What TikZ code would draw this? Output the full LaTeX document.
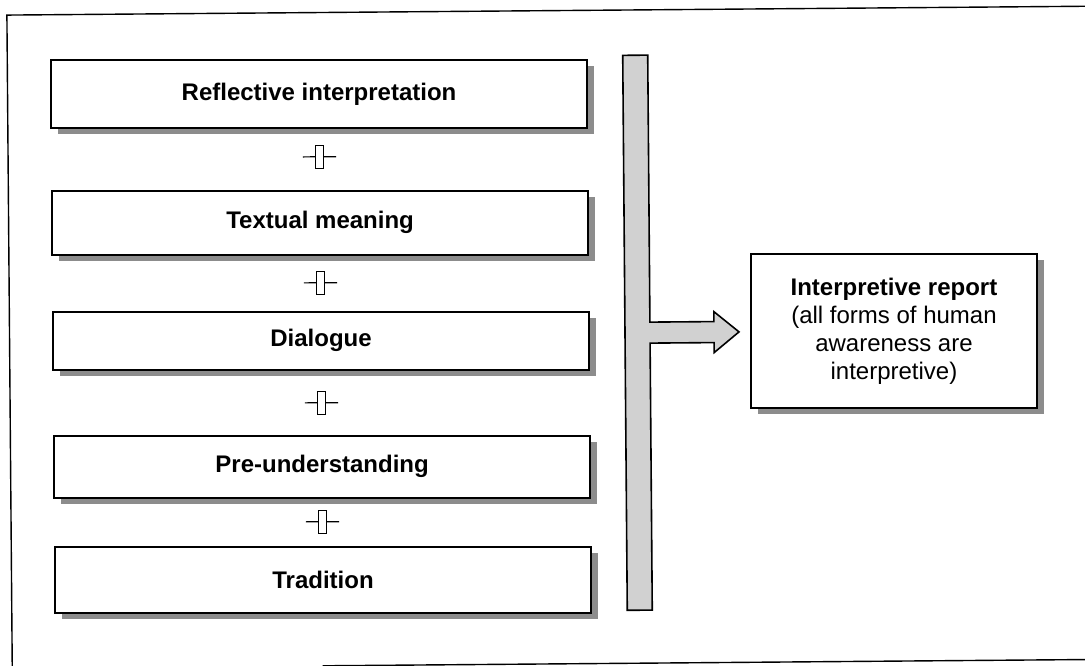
\documentclass[tikz,border=0pt]{standalone}
\usepackage{fontspec}
\setmainfont{Liberation Sans}
\usetikzlibrary{shadows}
\begin{document}
\begin{tikzpicture}[x=1pt,y=-1pt,
  frameline/.style={line width=1.4pt},
  boxshadow/.style={drop shadow={shadow xshift=7pt,shadow yshift=-6pt,fill=black!45,opacity=1}},
  stepbox/.style={draw,line width=1.6pt,fill=white,boxshadow,minimum width=536pt,minimum height=66pt,inner sep=0pt,
    font=\bfseries\fontsize{24}{28}\selectfont},
  linkbox/.style={draw,line width=1.2pt,fill=white,minimum width=8pt,minimum height=23pt,inner sep=0pt},
  linkarm/.style={line width=1.2pt},
  reportbox/.style={draw,line width=1.6pt,fill=white,boxshadow,minimum width=286pt,minimum height=154pt,inner sep=0pt,
    align=center,font=\fontsize{24}{28}\selectfont},
  flowbar/.style={draw,line width=1.6pt,fill=black!18,line join=miter}
]
\useasboundingbox (0,0) rectangle (1085,666);
\clip (0,0) rectangle (1085,666);
\begin{scope}[rotate around={0.47:(542,333)}]
  % outer frame
  \draw[frameline] (9.5,690) -- (9.5,10.7) -- (1110,10.7);
  \draw[frameline] (320,664) -- (1110,664);

  % stages
  \node[stepbox,minimum height=68pt] (s1) at (321,92)  {Reflective interpretation};
  \node[stepbox,minimum height=64pt] (s2) at (321,221) {Textual meaning};
  \node[stepbox,minimum height=58pt] (s3) at (321,339) {Dialogue};
  \node[stepbox,minimum height=62pt] (s4) at (321,465) {Pre-understanding};
  \node[stepbox] (s5) at (321,578) {Tradition};

  % links between stages
  \foreach \n/\y in {l1/155,l2/281,l3/401,l4/520}{
    \node[linkbox] (\n) at (321,\y) {};
    \draw[linkarm] (\n.west) -- ++(-12,0);
    \draw[linkarm] (\n.east) -- ++(12,0);
  }

  % collecting bar with arrow
  \draw[flowbar] (625,56) -- (650,56) -- (650,323) -- (714,323) -- (714,313)
     -- (739,333.5) coordinate (tip) -- (714,354) -- (714,344) -- (650,344)
     -- (650,611) -- (625,611) -- cycle;

  % result
  \node[reportbox] (report) at (894,334)
    {\textbf{Interpretive report}\\(all forms of human\\awareness are\\interpretive)};
\end{scope}
\end{tikzpicture}
\end{document}
